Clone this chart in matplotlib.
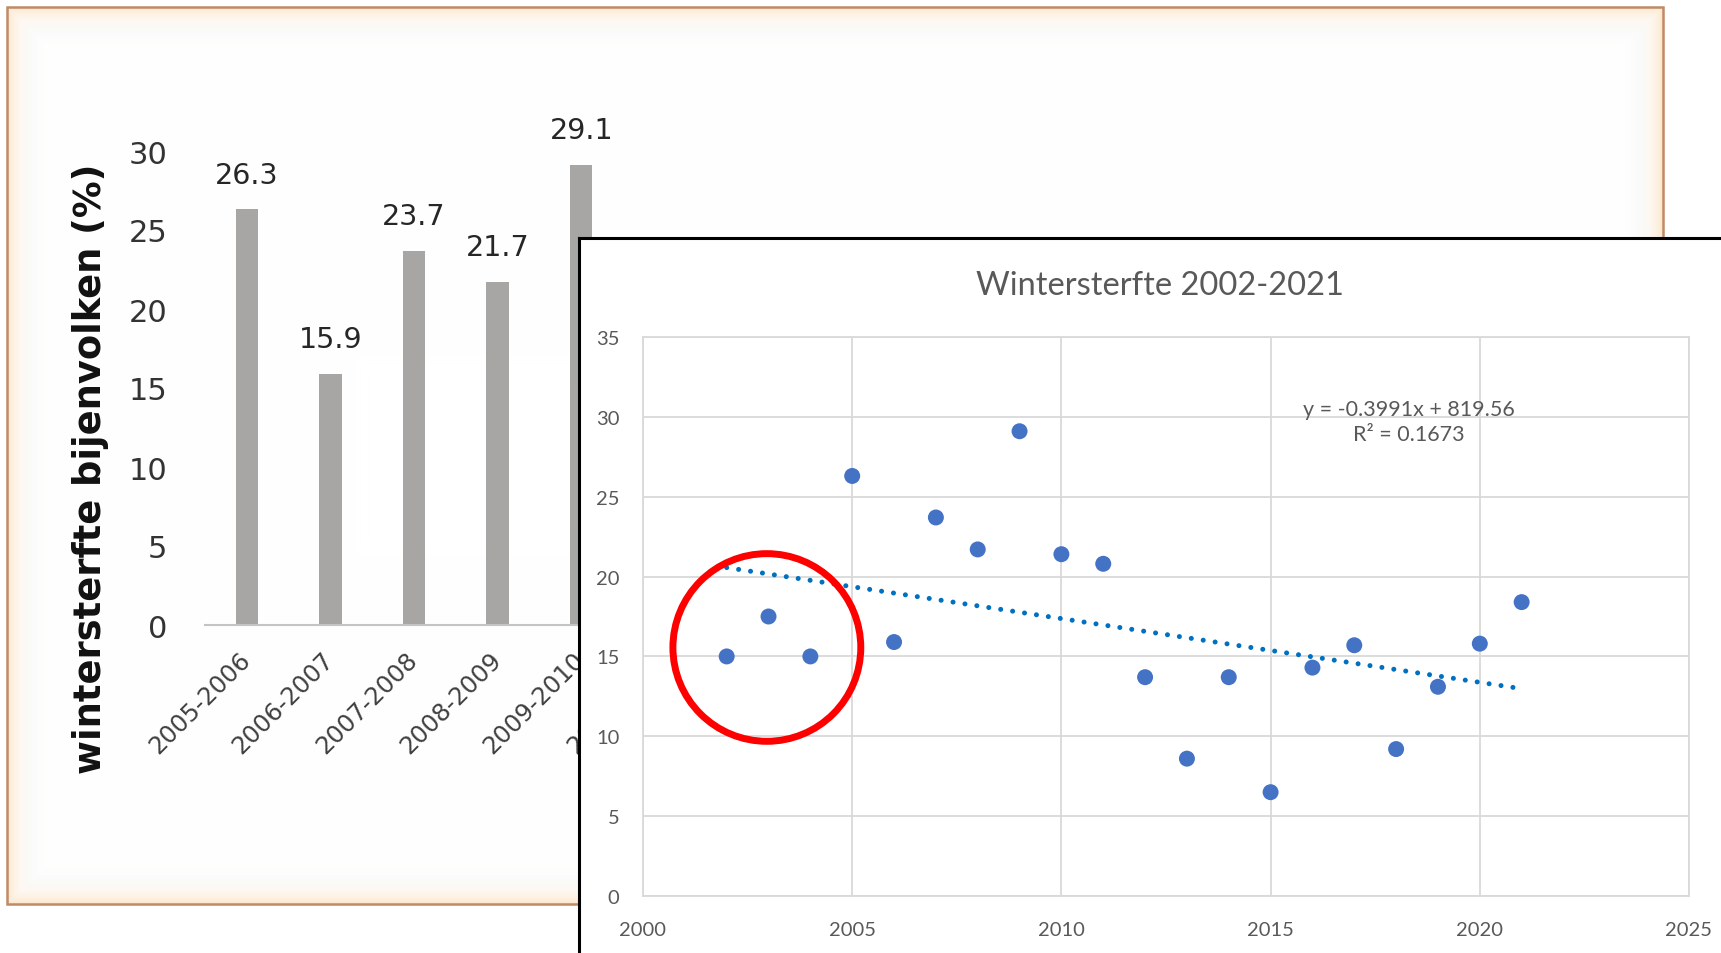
import numpy as np
import matplotlib
matplotlib.use("Agg")
import matplotlib.pyplot as plt
from matplotlib.patches import Rectangle, Ellipse

# ---------------- data: background bar chart ----------------
bar_categories = ["2005-2006", "2006-2007", "2007-2008", "2008-2009", "2009-2010", "2010-2011"]
bar_values = [26.3, 15.9, 23.7, 21.7, 29.1, 21.4]
bar_yticks = [0, 5, 10, 15, 20, 25, 30]
bar_ylabel = "wintersterfte bijenvolken (%)"

# ---------------- data: scatter chart ----------------
years = [2002, 2003, 2004, 2005, 2006, 2007, 2008, 2009, 2010, 2011,
         2012, 2013, 2014, 2015, 2016, 2017, 2018, 2019, 2020, 2021]
mortality = [15.0, 17.5, 15.0, 26.3, 15.9, 23.7, 21.7, 29.1, 21.4, 20.8,
             13.7, 8.6, 13.7, 6.5, 14.3, 15.7, 9.2, 13.1, 15.8, 18.4]
trend_slope = -0.3991
trend_intercept = 819.56
r_squared = 0.1673
scatter_xticks = [2000, 2005, 2010, 2015, 2020, 2025]
scatter_yticks = [0, 5, 10, 15, 20, 25, 30, 35]
scatter_title = "Wintersterfte 2002-2021"

W, H = 1721, 954
fig = plt.figure(figsize=(W / 100, H / 100), dpi=100)


def rect(x0, y0, x1, y1):
    """pixel box (top-left origin) -> figure fraction rect"""
    return [x0 / W, 1 - y1 / H, (x1 - x0) / W, (y1 - y0) / H]


# ---------------- background frame with soft glow ----------------
bg = fig.add_axes([0, 0, 1, 1], zorder=0)
fx0, fy0, fx1, fy1 = 7, 8, 1663, 905
yy, xx = np.mgrid[fy0:fy1, fx0:fx1] + 0.5
d = np.minimum.reduce([xx - fx0, fx1 - xx, yy - fy0, fy1 - yy])
peach = np.array([252, 226, 194]) / 255
blue = np.array([240, 248, 255]) / 255
a = 0.9 * np.exp(-d / 10.0)
b = 0.3 * np.exp(-((d - 24) / 10.0) ** 2)
img = np.ones(d.shape + (3,))
img = img * (1 - b[..., None]) + blue * b[..., None]
img = img * (1 - a[..., None]) + peach * a[..., None]
bg.imshow(img, extent=(fx0, fx1, fy1, fy0), interpolation="bilinear", aspect="auto")
bg.add_patch(Rectangle((fx0, fy0), fx1 - fx0, fy1 - fy0, fill=False, ec="#C08A66", lw=1.8))
bg.set_xlim(0, W)
bg.set_ylim(H, 0)
bg.axis("off")

# ---------------- background bar chart ----------------
axb = fig.add_axes(rect(205, 152, 205 + 6 * 83.6, 626), zorder=1)
axb.patch.set_alpha(0)
xpos = np.arange(len(bar_categories))
bars = axb.bar(xpos, bar_values, width=0.27, color="#A8A5A5")
axb.set_xlim(-0.5, len(bar_categories) - 0.5)
axb.set_ylim(0, 30)
for s in ["top", "right", "left"]:
    axb.spines[s].set_visible(False)
axb.spines["bottom"].set_color("#C4C4C4")
axb.spines["bottom"].set_linewidth(1.5)
axb.set_yticks(bar_yticks)
axb.set_yticklabels([str(v) for v in bar_yticks], fontsize=22, color="#333333",
                    family="DejaVu Sans")
axb.tick_params(axis="y", length=0, pad=27)
axb.set_xticks(xpos)
axb.set_xticklabels(bar_categories, rotation=45, ha="right", va="center",
                    rotation_mode="anchor", fontsize=17.5, color="#404040",
                    family="DejaVu Sans")
axb.tick_params(axis="x", length=0, pad=22)
axb.bar_label(bars, labels=[f"{v:.1f}" for v in bar_values], padding=15,
              fontsize=20.5, color="#262626", family="DejaVu Sans")
fig.text(91 / W, 1 - 469 / H, bar_ylabel, rotation=90, ha="center", va="center",
         fontsize=26.5, fontweight="bold", color="#111111", family="DejaVu Sans")

# ---------------- overlay panel ----------------
axp = fig.add_axes(rect(579, 239, 1800, 1040), zorder=2)
axp.set_xticks([])
axp.set_yticks([])
axp.set_facecolor("white")
for s in axp.spines.values():
    s.set_color("black")
    s.set_linewidth(2.2)

# ---------------- scatter chart ----------------
axs = fig.add_axes(rect(643, 338, 1689, 897), zorder=3)
axs.patch.set_alpha(0)
axs.set_xlim(2000, 2025)
axs.set_ylim(0, 35)
axs.set_xticks(scatter_xticks)
axs.set_yticks(scatter_yticks)
axs.set_xticklabels([str(v) for v in scatter_xticks], fontsize=14.5, color="#595959", family="Lato")
axs.set_yticklabels([str(v) for v in scatter_yticks], fontsize=14.5, color="#595959", family="Lato")
axs.tick_params(axis="y", length=0, pad=17)
axs.tick_params(axis="x", length=0, pad=18)
axs.grid(True, color="#D9D9D9", lw=1.3)
axs.set_axisbelow(True)
for s in axs.spines.values():
    s.set_color("#D9D9D9")
    s.set_linewidth(1.3)

trend_x = np.array([years[0], years[-1]], dtype=float)
trend_y = trend_slope * trend_x + trend_intercept
axs.plot(trend_x, trend_y, color="#0070C0", lw=3.6, linestyle=(0, (0.01, 2.4)),
         dash_capstyle="round", zorder=3)
axs.scatter(years, mortality, s=11.5 ** 2, color="#4472C4", edgecolors="none", zorder=4)

axs.add_patch(Ellipse((2002.96, 15.56), 4.49, 11.75, fill=False, ec="#FF0000", lw=5, zorder=5))

axs.text(2018.3, 29.7, f"y = {trend_slope:.4f}x + {trend_intercept:.2f}\nR\u00b2 = {r_squared:.4f}",
         ha="center", va="center", multialignment="center", fontsize=15.5,
         color="#595959", family="Lato", linespacing=1.3)
axs.text(0.494, (897 - 295) / 559, scatter_title, transform=axs.transAxes,
         ha="center", va="baseline", fontsize=23.5, color="#595959", family="Lato")

fig.savefig("out.png", dpi=100)
